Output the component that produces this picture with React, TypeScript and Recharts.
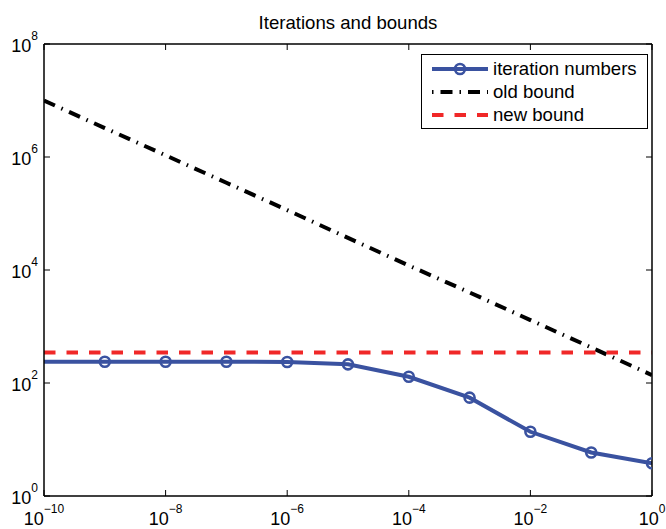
import React from 'react';
import { LineChart, Line, XAxis, YAxis, Legend } from 'recharts';

const epsValues = [1e-10, 1e-9, 1e-8, 1e-7, 1e-6, 1e-5, 1e-4, 1e-3, 1e-2, 1e-1, 1];
const iterationNumbers = [238, 238, 238, 238, 235, 214, 129, 55, 13.7, 5.9, 3.8];
const oldBound = [1.0e7, 3.25e6, 1.07e6, 3.5e5, 1.15e5, 3.7e4, 1.2e4, 4.0e3, 1.3e3, 425, 138];
const newBound = [345, 345, 345, 345, 345, 345, 345, 345, 345, 345, 345];

const xTicks = [1e-10, 1e-8, 1e-6, 1e-4, 1e-2, 1];
const xTickExps = ['\u221210', '\u22128', '\u22126', '\u22124', '\u22122', '0'];
const yTicks = [1, 1e2, 1e4, 1e6, 1e8];
const yTickExps = ['0', '2', '4', '6', '8'];

const seriesNames = ['iteration numbers', 'old bound', 'new bound'];
const titleText = 'Iterations and bounds';

const rows = epsValues.map((e, i) => ({
  eps: e,
  iters: iterationNumbers[i],
  oldB: oldBound[i],
  newB: newBound[i],
}));

const FONT = '"Liberation Sans", Arial, Helvetica, sans-serif';
const BLUE = '#3a52a0';
const RED = '#f02828';
const BLACK_DASH = '12 7 1.5 7';
const RED_DASH = '11.5 11';

const findIdx = (arr: number[], v: number) =>
  arr.findIndex((t) => Math.abs(Math.log10(t) - Math.log10(v)) < 1e-6);

const XTick = (props: any) => {
  const { x, y, payload } = props;
  const i = findIdx(xTicks, payload.value);
  return (
    <text x={x} y={y + 29} textAnchor="middle" fontFamily={FONT} fontSize={18} fill="#000">
      <tspan>10</tspan>
      <tspan dy={-12} fontSize={12}>{xTickExps[i]}</tspan>
    </text>
  );
};

const YTick = (props: any) => {
  const { x, y, payload } = props;
  const i = findIdx(yTicks, payload.value);
  return (
    <text x={x - 6} y={y + 7.5} textAnchor="end" fontFamily={FONT} fontSize={18} fill="#000">
      <tspan>10</tspan>
      <tspan dy={-12} fontSize={12}>{yTickExps[i]}</tspan>
    </text>
  );
};

const EmptyTick = () => <g />;

const renderDot = (props: any) => {
  const { cx, cy, index } = props;
  if (index === 0) return <g key={`d${index}`} />;
  return (
    <circle key={`d${index}`} cx={cx} cy={cy} r={5} fill="none" stroke={BLUE} strokeWidth={2.6} />
  );
};

const LegendBox = () => {
  const rowY = [15, 38, 61];
  return (
    <svg width={228} height={76} style={{ display: 'block' }}>
      <rect x={0.5} y={0.5} width={226} height={74} fill="#fff" stroke="#000" strokeWidth={1} />
      <line x1={11} x2={67} y1={rowY[0]} y2={rowY[0]} stroke={BLUE} strokeWidth={4} />
      <circle cx={39} cy={rowY[0]} r={5} fill="none" stroke={BLUE} strokeWidth={2.6} />
      <line x1={11} x2={67} y1={rowY[1]} y2={rowY[1]} stroke="#000" strokeWidth={4}
        strokeDasharray={BLACK_DASH} strokeDashoffset={19} />
      <line x1={11} x2={67} y1={rowY[2]} y2={rowY[2]} stroke={RED} strokeWidth={4}
        strokeDasharray={RED_DASH} />
      {seriesNames.map((n, i) => (
        <text key={n} x={72} y={rowY[i] + 5.5} fontFamily={FONT} fontSize={18.6} fill="#000">
          {n}
        </text>
      ))}
    </svg>
  );
};

export default function App() {
  const axisLine = { stroke: '#000', strokeWidth: 1.5 };
  const tickLine = { stroke: '#000', strokeWidth: 1 };
  return (
    <div style={{ position: 'absolute', left: 0, top: 0, width: 666, height: 529, background: '#fff' }}>
      <div
        style={{
          position: 'absolute',
          left: 44,
          width: 608,
          top: 14,
          textAlign: 'center',
          fontFamily: FONT,
          fontSize: 18.6,
          lineHeight: '18px',
          color: '#000',
          zIndex: 2,
        }}
      >
        {titleText}
      </div>
      <LineChart width={666} height={529} data={rows} margin={{ top: 44, right: 14, left: 0, bottom: 0 }}>
        <XAxis
          xAxisId="x"
          dataKey="eps"
          type="number"
          scale="log"
          domain={[1e-10, 1]}
          allowDataOverflow
          ticks={xTicks}
          interval={0}
          tick={<XTick />}
          tickLine={false}
          tickSize={0}
          tickMargin={0}
          axisLine={axisLine}
          height={33}
        />
        <XAxis
          xAxisId="xb"
          dataKey="eps"
          type="number"
          scale="log"
          domain={[1e-10, 1]}
          allowDataOverflow
          ticks={xTicks}
          interval={0}
          orientation="bottom"
          mirror
          height={1}
          tick={<EmptyTick />}
          tickLine={tickLine}
          tickSize={6}
          axisLine={false}
        />
        <XAxis
          xAxisId="xt"
          dataKey="eps"
          type="number"
          scale="log"
          domain={[1e-10, 1]}
          allowDataOverflow
          ticks={xTicks}
          interval={0}
          orientation="top"
          mirror
          height={1}
          tick={<EmptyTick />}
          tickLine={tickLine}
          tickSize={6}
          axisLine={axisLine}
        />
        <YAxis
          yAxisId="y"
          type="number"
          scale="log"
          domain={[1, 1e8]}
          allowDataOverflow
          ticks={yTicks}
          interval={0}
          tick={<YTick />}
          tickLine={false}
          tickSize={0}
          tickMargin={0}
          axisLine={axisLine}
          width={44}
        />
        <YAxis
          yAxisId="yl"
          type="number"
          scale="log"
          domain={[1, 1e8]}
          allowDataOverflow
          ticks={yTicks}
          interval={0}
          orientation="left"
          mirror
          width={1}
          tick={<EmptyTick />}
          tickLine={tickLine}
          tickSize={6}
          axisLine={false}
        />
        <YAxis
          yAxisId="yr"
          type="number"
          scale="log"
          domain={[1, 1e8]}
          allowDataOverflow
          ticks={yTicks}
          interval={0}
          orientation="right"
          mirror
          width={1}
          tick={<EmptyTick />}
          tickLine={tickLine}
          tickSize={6}
          axisLine={axisLine}
        />
        <Line
          xAxisId="x"
          yAxisId="y"
          dataKey="iters"
          name={seriesNames[0]}
          stroke={BLUE}
          strokeWidth={4}
          dot={renderDot}
          isAnimationActive={false}
        />
        <Line
          xAxisId="x"
          yAxisId="y"
          dataKey="oldB"
          name={seriesNames[1]}
          stroke="#000"
          strokeWidth={4}
          strokeDasharray={BLACK_DASH}
          dot={false}
          isAnimationActive={false}
        />
        <Line
          xAxisId="x"
          yAxisId="y"
          dataKey="newB"
          name={seriesNames[2]}
          stroke={RED}
          strokeWidth={4}
          strokeDasharray={RED_DASH}
          dot={false}
          isAnimationActive={false}
        />
        <Legend
          layout="vertical"
          align="center"
          verticalAlign="middle"
          content={<LegendBox />}
          wrapperStyle={{ position: 'absolute', left: 421, top: 54, width: 228, height: 76 }}
        />
      </LineChart>
    </div>
  );
}
